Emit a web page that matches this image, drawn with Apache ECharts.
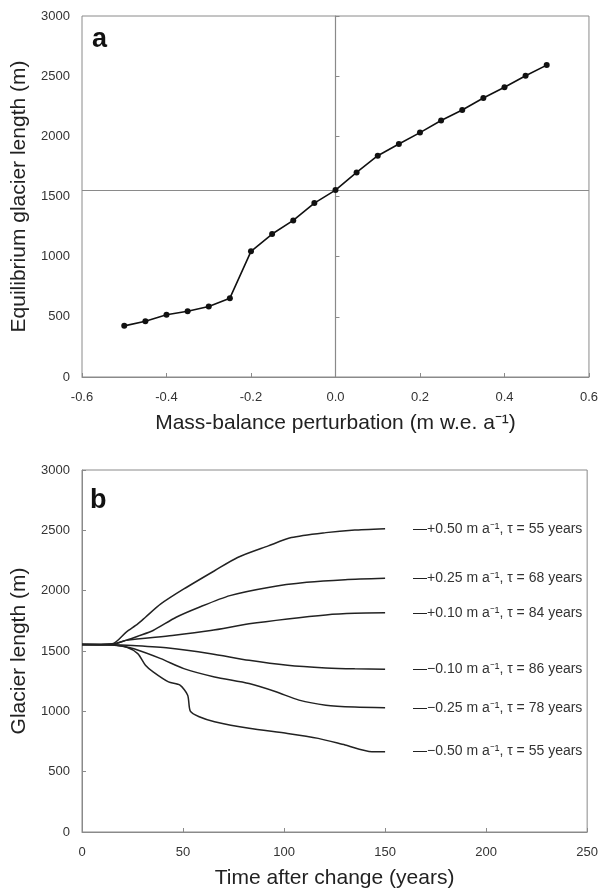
<!DOCTYPE html>
<html><head><meta charset="utf-8">
<script src="https://cdn.jsdelivr.net/npm/echarts@6/dist/echarts.min.js"></script>
<style>html,body{margin:0;padding:0;background:#fff}#c{width:601px;height:890px}</style>
</head><body><div id="c"></div>
<script>
// Panel a: equilibrium glacier length vs mass-balance perturbation
const perturbation = [-0.5,-0.45,-0.4,-0.35,-0.3,-0.25,-0.2,-0.15,-0.1,-0.05,0,0.05,0.1,0.15,0.2,0.25,0.3,0.35,0.4,0.45,0.5];
const eqLength = [425,464,517,547,586,655,1044,1188,1301,1445,1553,1700,1839,1936,2031,2131,2219,2319,2408,2503,2592];
const refLength = 1553;
const refPerturbation = 0;

// Panel b: glacier length vs time after change
const tP50 = [0,15,21.9,27.6,31.4,39,50.4,65.6,77,92.2,103.6,120.7,135,150];
const vP50 = [1553,1560,1657,1725,1780,1890,2014,2165,2275,2371,2440,2481,2503,2514];
const tP25 = [0,15,22,28,35.2,46.6,58,73.2,92.2,111.2,130.2,150];
const vP25 = [1553,1558,1590,1625,1670,1780,1863,1959,2027,2069,2091,2102];
const tP10 = [0,15,21.9,44.7,63.7,82.7,101.7,120.7,135,150];
const vP10 = [1553,1556,1588,1629,1670,1725,1766,1799,1812,1816];
const tM10 = [0,15,25,42.8,63.7,82.7,101.7,120.7,135,150];
const vM10 = [1553,1552,1545,1525,1478,1423,1382,1360,1352,1349];
const tM25 = [0,15,20,25.7,39,50.4,65.6,82.7,96,107.4,120.7,135,150];
const vM25 = [1553,1550,1540,1519,1437,1354,1285,1230,1162,1093,1051,1035,1029];
const tM50 = [0,15,21.9,27.6,31.4,35.2,42.8,48.5,52.3,53.6,58,65.6,82.7,101.7,116.9,130.2,143.5,150];
const vM50 = [1553,1550,1533,1478,1382,1327,1244,1217,1134,1002,955,914,859,817,776,721,666,666];
const curveLabels = ['+0.50 m a⁻¹, τ = 55 years','+0.25 m a⁻¹, τ = 68 years','+0.10 m a⁻¹, τ = 84 years','−0.10 m a⁻¹, τ = 86 years','−0.25 m a⁻¹, τ = 78 years','−0.50 m a⁻¹, τ = 55 years'];

const FONT = '"Liberation Sans", Arial, sans-serif';
const axisCol = '#8a8a8a';
const txtCol = '#333';

function zip(a,b){return a.map((x,i)=>[x,b[i]]);}

const curves = [[tP50,vP50],[tP25,vP25],[tP10,vP10],[tM10,vM10],[tM25,vM25],[tM50,vM50]];

const chart = echarts.init(document.getElementById('c'), null, {renderer:'canvas'});
const commonAxisLabel = {color: txtCol, fontFamily: FONT, fontSize: 13};
const nameStyle = {fontSize:21, color:'#222', fontFamily: FONT};
chart.setOption({
  animation: false,
  textStyle: {fontFamily: FONT},
  title: [
    {text:'a', left: 87, top: 21, textStyle:{fontSize:27, fontWeight:'bold', color:'#111', fontFamily: FONT}},
    {text:'b', left: 85, top: 482, textStyle:{fontSize:27, fontWeight:'bold', color:'#111', fontFamily: FONT}}
  ],
  grid: [
    {left: 82, top: 16, width: 507, height: 361, show: true, borderColor: axisCol, borderWidth: 1},
    {left: 82, top: 470, width: 507, height: 362, show: true, borderColor: axisCol, borderWidth: 1}
  ],
  xAxis: [
    {gridIndex:0, type:'value', min:-0.6, max:0.6, interval:0.2,
     name:'Mass-balance perturbation (m w.e. a⁻¹)', nameLocation:'middle', nameGap:36,
     nameTextStyle:nameStyle,
     axisLine:{lineStyle:{color:axisCol}}, axisTick:{inside:true, length:4, lineStyle:{color:axisCol}},
     splitLine:{show:false},
     axisLabel:Object.assign({margin:14, formatter:v=>v.toFixed(1)}, commonAxisLabel)},
    {gridIndex:1, type:'value', min:0, max:250, interval:50,
     name:'Time after change (years)', nameLocation:'middle', nameGap:36,
     nameTextStyle:nameStyle,
     axisLine:{lineStyle:{color:axisCol}}, axisTick:{inside:true, length:4, lineStyle:{color:axisCol}},
     splitLine:{show:false},
     axisLabel:Object.assign({margin:14}, commonAxisLabel)}
  ],
  yAxis: [
    {gridIndex:0, type:'value', min:0, max:3000, interval:500,
     name:'Equilibrium glacier length (m)', nameLocation:'middle', nameGap:48,
     nameTextStyle:nameStyle,
     axisLine:{lineStyle:{color:axisCol}}, axisTick:{inside:true, length:4, lineStyle:{color:axisCol}},
     splitLine:{show:false},
     axisLabel:Object.assign({margin:12, formatter:v=>String(v)}, commonAxisLabel)},
    {gridIndex:1, type:'value', min:0, max:3000, interval:500,
     name:'Glacier length (m)', nameLocation:'middle', nameGap:48,
     nameTextStyle:nameStyle,
     axisLine:{lineStyle:{color:axisCol}}, axisTick:{inside:true, length:4, lineStyle:{color:axisCol}},
     splitLine:{show:false},
     axisLabel:Object.assign({margin:12, formatter:v=>String(v)}, commonAxisLabel)}
  ],
  series: [
    {type:'line', xAxisIndex:0, yAxisIndex:0, data: [[refPerturbation, refLength]],
     symbolSize:0, showSymbol:false, lineStyle:{width:0}, z:1, silent:true,
     markLine:{z:1, silent:true, symbol:'none', label:{show:false}, lineStyle:{color:axisCol, width:1.2, type:'solid'},
       data:[{yAxis: refLength}, {xAxis: refPerturbation}]}},
    {type:'line', xAxisIndex:0, yAxisIndex:0, data: zip(perturbation, eqLength),
     symbol:'circle', symbolSize:6, itemStyle:{color:'#111', borderWidth:0}, lineStyle:{color:'#111', width:1.6}, z:3},
    ...curves.map((c,i)=>({
      type:'line', xAxisIndex:1, yAxisIndex:1, data: zip(c[0], c[1]), symbol:'none',
      smooth:0.25,
      lineStyle:{color:'#222', width:1.5},
      endLabel:{show:true, distance:28, formatter:()=> '{d|—}' + curveLabels[i],
        color:txtCol, fontSize:14, fontFamily: FONT,
        rich:{d:{color:'#222', fontSize:14, fontFamily: FONT}}}
    }))
  ]
});
</script></body></html>
